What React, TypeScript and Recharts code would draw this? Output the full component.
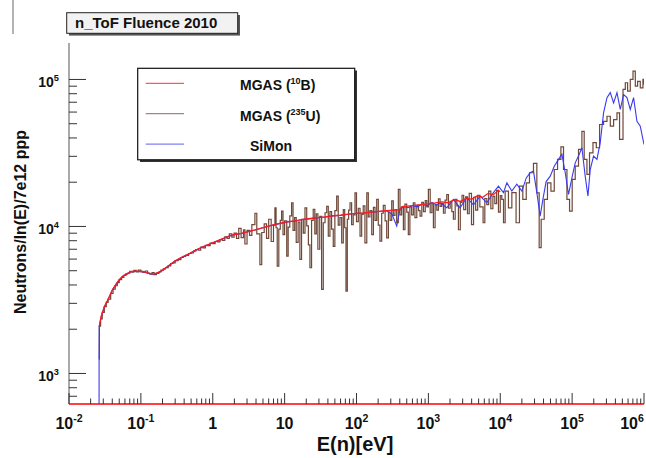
import React from 'react';
import { LineChart, Line, XAxis, YAxis } from 'recharts';

type Pt = [number, number];

// tick values and labels
const xTickValues = [0.01, 0.1, 1, 10, 100, 1000, 10000, 100000, 1000000];
const xTickLabels = ['10^-2', '10^-1', '1', '10', '10^2', '10^3', '10^4', '10^5', '10^6'];
const yTickValues = [1000, 10000, 100000];
const yTickLabels = ['10^3', '10^4', '10^5'];
const minorSteps = [2, 3, 4, 5, 6, 7, 8, 9];

const xDomain: [number, number] = [0.01, 1e6];
const yDomain: [number, number] = [620, 177000];

// MGAS (10B) - energy [eV], neutrons/ln(E)/7e12 ppp
const mgasB: Pt[] = [
  [0.0264, 2100], [0.028, 2440], [0.031, 2840], [0.035, 3200], [0.04, 3700], [0.045, 4050],
  [0.05, 4350], [0.056, 4600], [0.063, 4740], [0.072, 4920], [0.082, 4980], [0.095, 4950],
  [0.11, 4920], [0.13, 4800], [0.15, 4740], [0.175, 4870], [0.2, 5040], [0.25, 5470],
  [0.3, 5840], [0.38, 6220], [0.46, 6490], [0.58, 6920], [0.7, 7220], [0.85, 7500],
  [1.05, 7830], [1.3, 8170], [1.65, 8580], [2.0, 8820], [2.5, 8970], [3.1, 9220],
  [3.9, 9470], [5.0, 9820], [6.5, 10170], [8.5, 10480], [11, 10770], [14, 10930],
  [18, 11180], [23, 11330], [29, 11480], [37, 11630], [47, 11830], [60, 11930],
  [77, 12130], [98, 12280], [125, 12380], [160, 12530], [205, 12680], [260, 12830],
  [330, 12900], [390, 12950], [430, 13650], [520, 13750], [640, 13900], [800, 14100],
  [1000, 14300], [1250, 14450], [1550, 14700], [1900, 14500], [2300, 15200], [2800, 14800],
  [3400, 15600], [4000, 15300], [4800, 16200], [5700, 15800], [6800, 16800], [8000, 16400],
  [9400, 17600], [10000, 17200],
];

// MGAS (235U)
const mgasU: Pt[] = [
  [0.0262, 1250], [0.0264, 2100], [0.0275, 2350], [0.029, 2600], [0.031, 2850], [0.033, 3050],
  [0.035, 3200], [0.038, 3500], [0.041, 3750], [0.044, 3950], [0.047, 4150], [0.05, 4350],
  [0.054, 4500], [0.058, 4650], [0.062, 4780], [0.066, 4820], [0.07, 4950], [0.075, 4880],
  [0.08, 5020], [0.086, 4900], [0.092, 5050], [0.1, 4950], [0.107, 4870], [0.115, 4980],
  [0.124, 4820], [0.133, 4760], [0.143, 4850], [0.153, 4700], [0.165, 4800], [0.178, 4900],
  [0.19, 5050], [0.205, 5150], [0.22, 5250], [0.24, 5400], [0.26, 5600], [0.28, 5650],
  [0.3, 5850], [0.33, 5950], [0.36, 6150], [0.39, 6250], [0.42, 6350], [0.46, 6550],
  [0.5, 6600], [0.54, 6800], [0.58, 6950], [0.63, 6900], [0.68, 7250], [0.73, 7150],
  [0.79, 7450], [0.85, 7400], [0.92, 7700], [1.0, 7650], [1.08, 7900], [1.17, 7850],
  [1.26, 8150], [1.36, 8050], [1.47, 8500], [1.58, 8300], [1.7, 8900], [1.84, 8450],
  [1.98, 9000], [2.14, 8300], [2.3, 9700], [2.48, 8400], [2.68, 9500],
  [2.8, 7600], [3.0, 9400], [3.25, 8700], [3.5, 10300], [3.86, 12300], [4.1, 8900],
  [4.53, 5500], [4.8, 9100], [5.2, 10400], [5.6, 8300], [6.0, 11200], [6.5, 7900],
  [7.0, 10200], [7.33, 13400], [7.6, 9800], [7.89, 5370], [8.3, 9600], [8.7, 11000],
  [9.08, 12700], [9.5, 8800], [10.0, 10900], [10.7, 6280], [11.2, 9900], [11.8, 11800],
  [12.5, 14500], [13.1, 9400], [13.8, 11500], [14.5, 7800], [15.4, 10700], [16.3, 5970],
  [17.2, 11200], [18.2, 9000], [19.2, 13400], [20.3, 10100], [21.4, 7500], [22.5, 5240],
  [23.7, 11000], [25.0, 13100], [26.3, 8900], [27.6, 12200], [29.0, 7000], [30.8, 11700],
  [32.7, 3730], [34.5, 10600], [36.5, 12400], [38.5, 13700], [40.5, 8600], [42.7, 12600],
  [45.0, 9600], [47.5, 7330], [50.0, 12800], [53.0, 16100], [55.7, 10200], [58.8, 11500],
  [62.2, 7740], [65.5, 13000], [68.5, 9800], [71.4, 3630], [74.5, 11200], [77.8, 12900],
  [81.3, 14500], [85.5, 10300], [90.0, 12000], [95.3, 16900], [100, 10800], [106, 13300],
  [112, 8590], [118, 12100], [124, 13800], [131, 7740], [139, 16900], [146, 11600],
  [154, 12800], [163, 8800], [172, 13500], [181, 11000], [191, 15300], [201, 10200],
  [212, 7940], [224, 12300], [236, 13900], [250, 10900], [263, 8370], [278, 12500],
  [293, 11000], [309, 14950], [325, 11900], [343, 13000], [362, 10600], [382, 17900],
  [403, 12000], [425, 13500], [449, 9500], [472, 14200], [500, 12500], [526, 8800],
  [553, 13600], [585, 12000], [618, 14500], [650, 11500], [690, 13900], [730, 12800],
  [766, 11750], [810, 14600], [855, 12600], [905, 15000], [950, 13600], [1000, 17900],
  [1060, 12400], [1120, 14300], [1175, 9800], [1240, 14000], [1310, 12900], [1380, 15400],
  [1456, 13700], [1530, 14300], [1620, 12300], [1710, 15100], [1803, 16500], [1900, 13300],
  [2010, 14800], [2120, 12600], [2228, 11200], [2360, 15300], [2490, 13800], [2618, 9500],
  [2780, 14600], [2940, 16300], [3100, 13000], [3300, 15900], [3500, 12200], [3700, 16800],
  [3980, 10300], [4250, 15800], [4550, 12900], [4850, 16300], [5200, 13600], [5770, 10600],
  [6100, 15500], [6500, 14100], [6900, 17400], [7400, 13200], [7900, 16000], [8400, 14300],
  [8900, 17600], [9440, 12500], [10000, 16200],
  [10500, 15300], [11100, 10600], [11700, 17400], [13000, 13400], [14500, 17000], [16600, 10600],
  [18500, 18800], [20600, 15300], [23000, 19800], [25500, 23200], [29000, 26900], [32300, 16900],
  [34800, 7170], [37100, 11200], [40900, 15300], [45400, 19800], [50700, 17400], [56400, 24400],
  [62700, 28600], [69800, 34800], [75900, 24400], [84700, 15300], [92100, 12700], [100200, 20900],
  [110400, 25700], [122700, 33400], [136800, 44400], [147200, 28600], [160700, 22600], [174600, 31700],
  [195000, 37200], [216800, 34300], [241000, 49400], [273800, 51900], [305500, 56200], [339600, 48100],
  [377600, 53300], [420700, 59300], [457100, 39100], [510500, 85600], [549500, 95000], [591600, 83300],
  [644200, 100000], [703100, 113800], [756800, 90000], [814700, 97000], [887200, 87700], [967300, 100000],
  [1000000, 92500],
];

// SiMon
const siMon: Pt[] = [
  [0.0262, 500], [0.02622, 1250], [0.0264, 2100], [0.028, 2420], [0.031, 2830], [0.035, 3180],
  [0.04, 3680], [0.045, 4020], [0.05, 4330], [0.056, 4580], [0.063, 4720], [0.072, 4900],
  [0.082, 4960], [0.095, 4930], [0.11, 4900], [0.13, 4780], [0.15, 4720], [0.175, 4850],
  [0.2, 5020], [0.25, 5450], [0.3, 5820], [0.38, 6200], [0.46, 6470], [0.58, 6900],
  [0.7, 7200], [0.85, 7480], [1.05, 7800], [1.3, 8150], [1.65, 8560], [2.0, 8800],
  [2.5, 8950], [3.1, 9200], [3.9, 9450], [5.0, 9800], [6.5, 10150], [8.5, 10450],
  [11, 10750], [14, 10900], [18, 11150], [23, 11300], [29, 11450], [37, 11600],
  [47, 11800], [60, 11900], [77, 12100], [98, 12250], [125, 12350], [160, 12500],
  [205, 12650], [260, 12800], [310, 12200], [363, 10050], [400, 12900], [450, 13700],
  [520, 13400], [600, 13900], [700, 13600], [820, 14200], [960, 13800], [1120, 14600],
  [1300, 14000], [1456, 14500], [1803, 13400], [2228, 15300], [2760, 13400], [3425, 15700],
  [4240, 14000], [5250, 16100], [6500, 14500], [8040, 17000], [9440, 18800], [11090, 17000],
  [12360, 19800], [14500, 17400], [17000, 19400], [20000, 17400], [23000, 21400], [26100, 23200],
  [29000, 23800], [32300, 17000], [35900, 11750], [39200, 15300], [43500, 20200], [49600, 22000],
  [56400, 25700], [64700, 28600], [72100, 31000], [80200, 23200], [89100, 16500], [99300, 21400],
  [110400, 27100], [122700, 30100], [136800, 34300], [152000, 22000], [166000, 16100], [178600, 24400],
  [198600, 30100], [221300, 28600], [246000, 37200], [273800, 59300], [305500, 75200], [339600, 81400],
  [377600, 69200], [420700, 81400], [467700, 62500], [520000, 79000], [579400, 75200], [644200, 62500],
  [716000, 75200], [798000, 51900], [887000, 48100], [1000000, 36100],
];

const legendItems = [
  { base: 'MGAS (', sup: '10', rest: 'B)', color: '#ff0000', x: 240 },
  { base: 'MGAS (', sup: '235', rest: 'U)', color: '#6e4838', x: 240 },
  { base: 'SiMon', sup: '', rest: '', color: '#3a3aee', x: 250 },
];

const FONT = '"Liberation Sans", Arial, Helvetica, sans-serif';

const logTicks = (lo: number, hi: number) => {
  const out: number[] = [];
  for (let d = Math.floor(Math.log10(lo)); d <= Math.ceil(Math.log10(hi)); d++) {
    const base = Math.pow(10, d);
    [1, ...minorSteps].forEach((k) => {
      const v = k * base;
      if (v >= lo && v <= hi * 1.000001) out.push(v);
    });
  }
  return out;
};

const xTicks = logTicks(xDomain[0], xDomain[1]);
const yTicks = logTicks(yDomain[0], yDomain[1]);

const majorIndex = (majors: number[], v: number) =>
  majors.findIndex((t) => Math.abs(t - v) <= t * 1e-6);

const rows = (pts: Pt[]) => pts.map(([e, n]) => ({ e, n }));

function PowerLabel({ text, x, y, size, anchor }: { text: string; x: number; y: number; size: number; anchor: 'start' | 'middle' | 'end' }) {
  const [base, exp] = text.split('^');
  return (
    <text x={x} y={y} textAnchor={anchor} fontSize={size} fontWeight="bold" fill="#111" fontFamily={FONT}>
      {base}
      {exp !== undefined && (
        <tspan dy={-size * 0.45} fontSize={size * 0.66}>
          {exp}
        </tspan>
      )}
    </text>
  );
}

const BottomTick = (props: any) => {
  const { x, y, payload } = props;
  const i = majorIndex(xTickValues, payload.value);
  const len = i >= 0 ? 11 : 5.5;
  const last = i === xTickValues.length - 1;
  return (
    <g>
      <line x1={x} x2={x} y1={y} y2={y - len} stroke="#333" strokeWidth={1} />
      {i >= 0 && <PowerLabel text={xTickLabels[i]} x={last ? x - 12 : x} y={y + 25} size={16} anchor="middle" />}
    </g>
  );
};

const TopTick = (props: any) => {
  const { x, y, payload } = props;
  const len = majorIndex(xTickValues, payload.value) >= 0 ? 10 : 5;
  return <line x1={x} x2={x} y1={y} y2={y + len} stroke="#333" strokeWidth={1} />;
};

const LeftTick = (props: any) => {
  const { x, y, payload } = props;
  const i = majorIndex(yTickValues, payload.value);
  const len = i >= 0 ? 17 : 8;
  return (
    <g>
      <line x1={x} x2={x + len} y1={y} y2={y} stroke="#333" strokeWidth={1} />
      {i >= 0 && <PowerLabel text={yTickLabels[i]} x={x - 10} y={y + 8} size={14} anchor="end" />}
    </g>
  );
};

const RightTick = (props: any) => {
  const { x, y, payload } = props;
  const len = majorIndex(yTickValues, payload.value) >= 0 ? 16 : 7;
  return <line x1={x} x2={x - len} y1={y} y2={y} stroke="#333" strokeWidth={1} />;
};

export default function App() {
  return (
    <div style={{ position: 'absolute', left: 0, top: 0, width: 646, height: 458, background: '#fff' }}>
      <LineChart width={646} height={458} margin={{ top: 43, right: 2, bottom: 0, left: 0 }}>
        <XAxis
          xAxisId="b"
          dataKey="e"
          type="number"
          scale="log"
          domain={xDomain}
          allowDataOverflow
          ticks={xTicks}
          interval={0}
          height={54}
          tickSize={0}
          tickMargin={0}
          tickLine={false}
          axisLine={{ stroke: '#ff0000', strokeWidth: 1.5 }}
          tick={BottomTick}
        />
        <XAxis
          xAxisId="t"
          orientation="top"
          dataKey="e"
          type="number"
          scale="log"
          domain={xDomain}
          allowDataOverflow
          ticks={xTicks}
          interval={0}
          height={0}
          tickSize={0}
          tickMargin={0}
          tickLine={false}
          axisLine={{ stroke: '#333', strokeWidth: 1 }}
          tick={TopTick}
        />
        <YAxis
          yAxisId="l"
          type="number"
          scale="log"
          domain={yDomain}
          allowDataOverflow
          ticks={yTicks}
          interval={0}
          width={69}
          tickSize={0}
          tickMargin={0}
          tickLine={false}
          axisLine={{ stroke: '#555', strokeWidth: 1 }}
          tick={LeftTick}
        />
        <YAxis
          yAxisId="r"
          orientation="right"
          type="number"
          scale="log"
          domain={yDomain}
          allowDataOverflow
          ticks={yTicks}
          interval={0}
          width={0}
          tickSize={0}
          tickMargin={0}
          tickLine={false}
          axisLine={{ stroke: '#cc0000', strokeWidth: 1.5 }}
          tick={RightTick}
        />
        <Line
          xAxisId="b"
          yAxisId="l"
          data={rows(mgasU)}
          dataKey="n"
          type="stepAfter"
          stroke="#6e4838"
          strokeWidth={1.2}
          dot={false}
          isAnimationActive={false}
        />
        <Line
          xAxisId="b"
          yAxisId="l"
          data={rows(siMon)}
          dataKey="n"
          type="linear"
          stroke="#3a3aee"
          strokeWidth={1.1}
          dot={false}
          isAnimationActive={false}
        />
        <Line
          xAxisId="b"
          yAxisId="l"
          data={rows(mgasB)}
          dataKey="n"
          type="linear"
          stroke="#ff1a1a"
          strokeWidth={1.3}
          dot={false}
          isAnimationActive={false}
        />
      </LineChart>
      <svg
        width={646}
        height={458}
        style={{ position: 'absolute', left: 0, top: 0, pointerEvents: 'none' }}
        fontFamily={FONT}
      >
        <line x1={13} x2={13} y1={0} y2={34} stroke="#666" strokeWidth={1} />
        {/* title box */}
        <rect x={69} y={15} width={171} height={20.6} fill="#555" />
        <rect x={66.7} y={12.7} width={171} height={20.6} fill="#f2f2f2" stroke="#222" strokeWidth={1} />
        <text x={75} y={27.5} fontSize={15} fontWeight="bold" fill="#111">n_ToF Fluence 2010</text>
        {/* legend */}
        <rect x={140} y={70.5} width={217} height={91.5} fill="#333" />
        <rect x={137.7} y={68.3} width={217} height={91.5} fill="#fff" stroke="#111" strokeWidth={1.2} />
        {legendItems.map((it, k) => {
          const ly = 83.3 + k * 30.4;
          return (
            <g key={k}>
              <line x1={145.7} x2={184} y1={ly} y2={ly} stroke={it.color} strokeWidth={1.3} strokeOpacity={0.65} />
              <text x={it.x} y={ly + 7} fontSize={14} fontWeight="bold" fill="#111">
                {it.base}
                {it.sup && (
                  <tspan dy={-6} fontSize={9}>
                    {it.sup}
                  </tspan>
                )}
                {it.sup && <tspan dy={6}>{it.rest}</tspan>}
              </text>
            </g>
          );
        })}
        {/* axis titles */}
        <text x={355} y={451} textAnchor="middle" fontSize={20} fontWeight="bold" fill="#111">E(n)[eV]</text>
        <text
          x={0}
          y={0}
          transform="translate(26 222) rotate(-90)"
          textAnchor="middle"
          fontSize={16}
          fontWeight="bold"
          fill="#111"
        >
          Neutrons/ln(E)/7e12 ppp
        </text>
      </svg>
    </div>
  );
}
